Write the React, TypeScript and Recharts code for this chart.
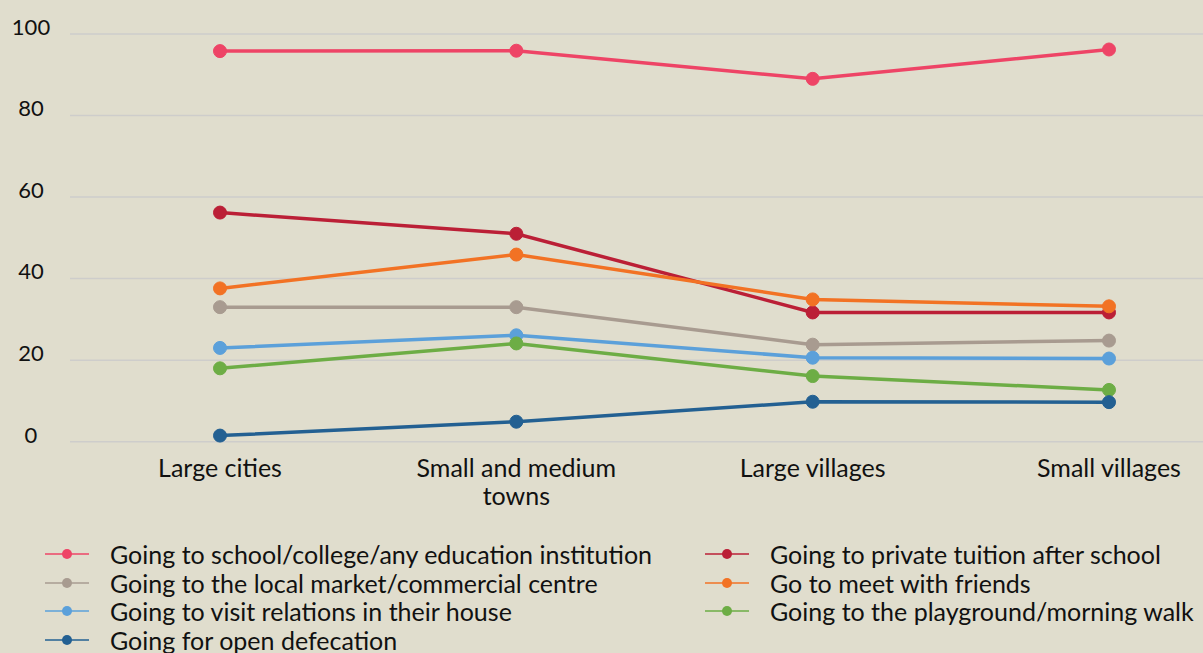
import React from 'react';
import { LineChart, Line, XAxis, YAxis, CartesianGrid, Legend } from 'recharts';

const categories = ['Large cities', 'Small and medium towns', 'Large villages', 'Small villages'];
const education = [95.8, 95.9, 89.0, 96.2];
const tuition = [56.2, 51.0, 31.7, 31.7];
const market = [33.0, 33.0, 23.8, 24.8];
const friends = [37.6, 45.9, 34.9, 33.2];
const relations = [23.0, 26.1, 20.6, 20.4];
const playground = [18.0, 24.1, 16.1, 12.7];
const defecation = [1.5, 4.9, 9.8, 9.7];
const yTicks = [0, 20, 40, 60, 80, 100];

const seriesNames = {
  education: 'Going to school/college/any education institution',
  tuition: 'Going to private tuition after school',
  market: 'Going to the local market/commercial centre',
  friends: 'Go to meet with friends',
  relations: 'Going to visit relations in their house',
  playground: 'Going to the playground/morning walk',
  defecation: 'Going for open defecation',
};
const seriesColors = {
  education: '#ee4466',
  tuition: '#bb1f36',
  market: '#a89b90',
  friends: '#f27224',
  relations: '#5ba0da',
  playground: '#6dad45',
  defecation: '#236092',
};
const drawOrder = ['education', 'tuition', 'market', 'friends', 'relations', 'playground', 'defecation'];
const legendLeft = ['education', 'market', 'relations', 'defecation'];
const legendRight = ['tuition', 'friends', 'playground'];

const values = { education, tuition, market, friends, relations, playground, defecation };
const data = categories.map((c, i) => {
  const row = { category: c };
  drawOrder.forEach((k) => { row[k] = values[k][i]; });
  return row;
});

const FONT = 'Lato, "Open Sans", sans-serif';
const MAX_CHARS = 16;

function wrapLabel(s) {
  const words = String(s).split(' ');
  const lines = [];
  let cur = '';
  words.forEach((w) => {
    const next = cur ? cur + ' ' + w : w;
    if (next.length > MAX_CHARS && cur) {
      lines.push(cur);
      cur = w;
    } else {
      cur = next;
    }
  });
  if (cur) lines.push(cur);
  return lines;
}

const XTick = (props) => {
  const { x, y, payload } = props;
  const lines = wrapLabel(payload.value);
  return (
    <text x={x} y={y + 27.5} textAnchor="middle" fill="#111" style={{ fontFamily: FONT, fontSize: 25 }}>
      {lines.map((l, i) => (
        <tspan key={i} x={x} dy={i === 0 ? 0 : 28}>{l}</tspan>
      ))}
    </text>
  );
};

const YTick = (props) => {
  const { y, payload } = props;
  return (
    <text x={31} y={y - 7} dy="0.355em" textAnchor="middle" fill="#111" style={{ fontFamily: FONT, fontSize: 22 }}>
      {payload.value}
    </text>
  );
};

const LegendItem = ({ k }) => (
  <div style={{ display: 'flex', alignItems: 'center', height: 28.6 }}>
    <svg width={44} height={14} style={{ flex: 'none' }}>
      <line x1={0} y1={7} x2={44} y2={7} stroke={seriesColors[k]} strokeWidth={1.5} />
      <circle cx={22} cy={7} r={5} fill={seriesColors[k]} />
    </svg>
    <span style={{ marginLeft: 21, whiteSpace: 'nowrap', fontFamily: FONT, fontSize: 25, lineHeight: '28px', color: '#111' }}>
      {seriesNames[k]}
    </span>
  </div>
);

const LegendContent = () => (
  <div style={{ position: 'relative', height: 113, width: 1203 }}>
    <div style={{ position: 'absolute', left: 45, top: 0 }}>
      {legendLeft.map((k) => <LegendItem key={k} k={k} />)}
    </div>
    <div style={{ position: 'absolute', left: 705, top: 0 }}>
      {legendRight.map((k) => <LegendItem key={k} k={k} />)}
    </div>
  </div>
);

export default function App() {
  return (
    <div style={{ position: 'absolute', left: 0, top: 0, width: 1203, height: 653, background: '#e0ddcd', overflow: 'hidden' }}>
      <LineChart width={1203} height={653} data={data} margin={{ top: 34, right: 0, bottom: 0, left: 0 }}>
        <CartesianGrid horizontal vertical={false} stroke="#cecdcb" strokeWidth={1.5} />
        <XAxis
          dataKey="category"
          axisLine={false}
          tickLine={false}
          interval={0}
          padding={{ left: 150, right: 94 }}
          height={98.3}
          tick={<XTick />}
        />
        <YAxis
          domain={[0, 100]}
          ticks={yTicks}
          axisLine={false}
          tickLine={false}
          width={70}
          tick={<YTick />}
        />
        <Legend verticalAlign="bottom" content={<LegendContent />} wrapperStyle={{ left: 0, width: 1203 }} />
        {drawOrder.map((k) => (
          <Line
            key={k}
            type="linear"
            dataKey={k}
            name={seriesNames[k]}
            stroke={seriesColors[k]}
            strokeWidth={3.5}
            dot={{ r: 6.5, fill: seriesColors[k], stroke: seriesColors[k], strokeWidth: 1 }}
            activeDot={false}
            isAnimationActive={false}
          />
        ))}
      </LineChart>
    </div>
  );
}
